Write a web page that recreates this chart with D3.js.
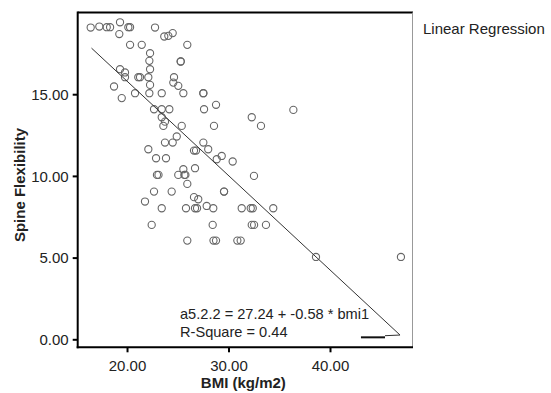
<!DOCTYPE html>
<html><head><meta charset="utf-8">
<script src="https://cdn.jsdelivr.net/npm/d3@7"></script>
<style>
html,body{margin:0;padding:0;background:#fff;}
svg{display:block;font-family:"Liberation Sans",Arial,sans-serif;}
</style></head>
<body><svg id="c" width="551" height="393"></svg>
<script>
const bmi = [16.42,17.27,18.00,18.33,19.31,19.24,20.13,20.30,22.76,23.67,24.07,24.50,20.30,21.45,25.94,22.27,22.20,22.27,25.29,25.29,
19.31,19.80,19.80,21.11,21.28,22.10,22.27,18.72,19.48,20.79,22.20,23.42,25.55,24.63,24.56,25.05,27.52,27.52,27.59,28.77,
22.66,23.42,24.17,23.42,23.74,23.58,25.39,28.57,36.39,32.29,33.20,24.90,23.74,24.50,22.10,26.60,26.80,27.52,28.00,22.86,
23.84,28.84,29.33,30.41,25.55,26.70,22.95,23.10,25.05,25.65,25.75,25.94,32.51,22.66,24.40,29.56,29.56,21.77,26.60,27.02,
23.42,25.81,26.70,26.90,27.85,28.50,31.30,32.19,32.39,34.41,22.43,28.44,32.29,32.52,33.69,25.94,28.52,28.77,30.87,31.20,
38.62,46.99];
const flex = [19.08,19.14,19.10,19.10,19.40,18.68,19.10,19.10,19.08,18.53,18.57,18.74,18.02,18.02,18.02,17.51,17.04,16.53,17.00,17.00,
16.53,16.33,16.04,16.04,16.04,16.04,15.57,15.47,14.76,15.06,15.06,15.06,15.06,16.04,15.71,15.51,15.06,15.06,14.08,14.35,
14.08,14.08,14.08,13.59,13.32,13.06,13.06,13.06,14.04,13.59,13.06,12.41,12.04,12.04,11.63,11.55,11.55,12.04,11.63,11.08,
11.08,11.02,11.22,10.88,10.41,10.47,10.06,10.06,10.06,10.06,10.06,9.51,10.00,9.04,9.04,9.04,9.04,8.43,8.70,8.57,
8.02,8.02,8.02,8.02,8.16,8.02,8.02,8.02,8.02,8.02,7.00,7.00,7.00,7.00,7.00,6.04,6.04,6.04,6.04,6.04,
5.04,5.04];
const xTicks = [20, 30, 40];
const yTicks = [0, 5, 10, 15];
const fitLineX = [16.5, 46.9, 45.42];
const fitLineY = [17.82, 0.26, 0.22];
const fitTailX = [43.05, 45.42];
const fitTailY = [0.12, 0.12];
const eqText = "a5.2.2 = 27.24 + -0.58 * bmi1";
const r2Text = "R-Square = 0.44";
const legendText = "Linear Regression";
const xTitle = "BMI (kg/m2)";
const yTitle = "Spine Flexibility";

const svg = d3.select("#c");
const L = 77.7, R = 412, T = 12.5, B = 347.3;
const x = d3.scaleLinear().domain([15.14, 48.08]).range([L, R]);
const y = d3.scaleLinear().domain([-0.49, 20.0]).range([B, T]);

// frame: top thick, right thin gray
svg.append("line").attr("x1", L).attr("x2", R + 1).attr("y1", T).attr("y2", T)
  .attr("stroke", "#000").attr("stroke-width", 2);
svg.append("line").attr("x1", R + 0.5).attr("x2", R + 0.5).attr("y1", T).attr("y2", B)
  .attr("stroke", "#999").attr("stroke-width", 1);

// points
svg.append("g").selectAll("circle").data(bmi.map((b, i) => [b, flex[i]])).join("circle")
  .attr("cx", d => x(d[0])).attr("cy", d => y(d[1])).attr("r", 3.6)
  .attr("fill", "none").attr("stroke", "#666").attr("stroke-width", 1.1);

// regression line
const line = d3.line().x(d => x(d[0])).y(d => y(d[1]));
svg.append("path").attr("d", line(fitLineX.map((v, i) => [v, fitLineY[i]])))
  .attr("fill", "none").attr("stroke", "#333").attr("stroke-width", 1);
svg.append("path").attr("d", line(fitTailX.map((v, i) => [v, fitTailY[i]])))
  .attr("fill", "none").attr("stroke", "#111").attr("stroke-width", 2);

// axes
const xAxis = svg.append("g").attr("transform", `translate(0,${B})`)
  .call(d3.axisBottom(x).tickValues(xTicks).tickSize(5).tickPadding(8).tickFormat(d3.format(".2f")));
const yAxis = svg.append("g").attr("transform", `translate(${L},0)`)
  .call(d3.axisLeft(y).tickValues(yTicks).tickSize(5).tickPadding(4).tickFormat(d3.format(".2f")));
[xAxis, yAxis].forEach(g => {
  g.select(".domain").remove();
  g.selectAll(".tick line").attr("stroke", "#000").attr("stroke-width", 2);
  g.selectAll("text").attr("font-size", 15).attr("fill", "#222")
    .attr("font-family", "'Liberation Sans',Arial,sans-serif");
});
yAxis.selectAll("text").attr("dy", "0.35em");
svg.append("line").attr("x1", L).attr("x2", L).attr("y1", T - 1).attr("y2", B + 1)
  .attr("stroke", "#000").attr("stroke-width", 2);
svg.append("line").attr("x1", L - 1).attr("x2", R + 1).attr("y1", B).attr("y2", B)
  .attr("stroke", "#000").attr("stroke-width", 2);

// titles
svg.append("text").attr("x", (L + R) / 2 - 1.5).attr("y", 388).attr("text-anchor", "middle")
  .attr("font-size", 15).attr("font-weight", "bold").attr("fill", "#222").text(xTitle);
svg.append("text").attr("transform", "translate(25,185) rotate(-90)").attr("text-anchor", "middle")
  .attr("font-size", 15).attr("font-weight", "bold").attr("fill", "#222").text(yTitle);

// equation
svg.append("text").attr("x", 180).attr("y", 318.5).attr("font-size", 14.6).attr("fill", "#222").text(eqText);
svg.append("text").attr("x", 180).attr("y", 336.5).attr("font-size", 14.6).attr("fill", "#222").text(r2Text);

// legend
svg.append("text").attr("x", 423).attr("y", 33.5).attr("font-size", 15).attr("fill", "#222").text(legendText);
</script></body></html>
